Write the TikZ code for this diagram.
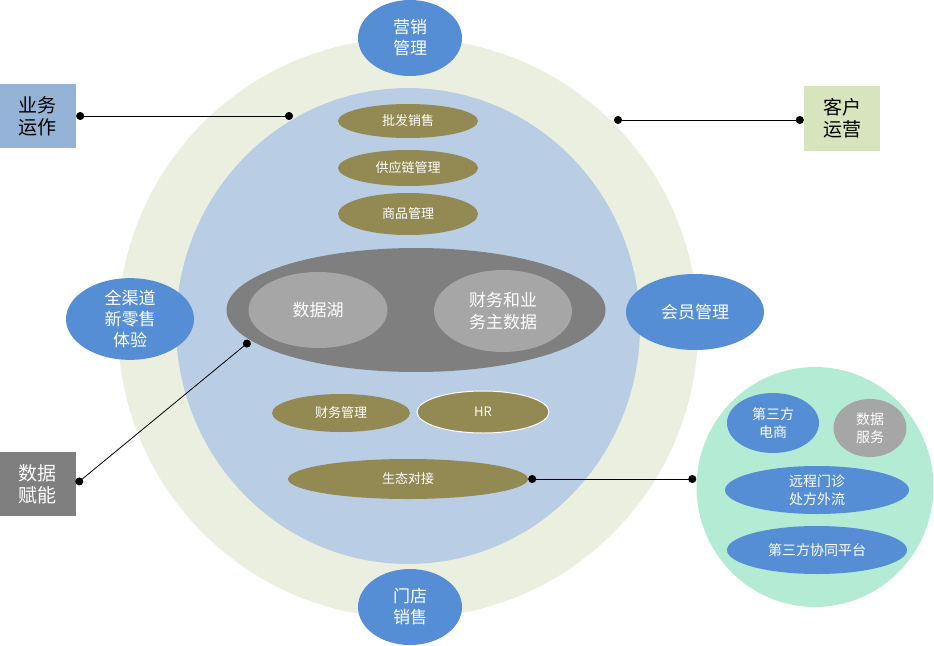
\documentclass[tikz,border=0pt]{standalone}
\usepackage{fontspec}
\newfontfamily\cjk{Noto Sans CJK SC}
\usetikzlibrary{shapes.geometric,arrows.meta}
\definecolor{ringgreen}{HTML}{EBEFDF}
\definecolor{coreblue}{HTML}{B9CDE5}
\definecolor{tagblue}{HTML}{558ED5}
\definecolor{olive}{HTML}{938953}
\definecolor{darkgray}{HTML}{7F7F7F}
\definecolor{lightgray}{HTML}{A6A6A6}
\definecolor{mint}{HTML}{B3EBD5}
\definecolor{boxblue}{HTML}{95B3D7}
\definecolor{boxgreen}{HTML}{D7E4BD}
\begin{document}
\begin{tikzpicture}[x=1pt, y=-1pt,
   oval/.style={ellipse, inner sep=0pt, font=\cjk, align=center},
   bluetag/.style={oval, fill=tagblue, text=white, font=\cjk\fontsize{17}{21}\selectfont},
   olivetag/.style={oval, fill=olive, text=white, font=\cjk\fontsize{13}{16}\selectfont},
   sidebox/.style={rectangle, inner sep=0pt, minimum width=76pt, minimum height=64pt,
                   align=center, font=\cjk\fontsize{19}{22}\selectfont},
   dotline/.style={line width=0.8pt, {Circle[length=8pt]}-{Circle[length=8pt]}}]
   \useasboundingbox (0,0) rectangle (934,645);
   % rings
   \fill[ringgreen] (408,328) circle (290);
   \fill[coreblue] (408,326) ellipse (232 and 238);
   % top, bottom, left, right tags
   \node[bluetag, minimum width=104pt, minimum height=76pt] (yxgl) at (410,38) {营销\\管理};
   \node[bluetag, minimum width=104pt, minimum height=76pt] (mdxs) at (410,607) {门店\\销售};
   \node[bluetag, minimum width=128pt, minimum height=80pt] (qqd) at (130,319) {全渠道\\新零售\\体验};
   \node[bluetag, minimum width=138pt, minimum height=76pt] (hygl) at (695,312) {会员管理};
   % inner tags
   \node[olivetag, minimum width=140pt, minimum height=34pt] (pfxs) at (408,121) {批发销售};
   \node[olivetag, minimum width=140pt, minimum height=36pt] (gyl) at (408,168) {供应链管理};
   \node[olivetag, minimum width=140pt, minimum height=42pt] (spgl) at (408,214) {商品管理};
   \node[olivetag, minimum width=138pt, minimum height=38pt] (cwgl) at (341,413) {财务管理};
   \node[olivetag, draw=white, line width=1pt, minimum width=132pt, minimum height=42pt] (hr) at (483,412) {HR};
   \node[olivetag, minimum width=240pt, minimum height=40pt] (stdj) at (408,479) {生态对接};
   % data core
   \node[oval, fill=darkgray, minimum width=379pt, minimum height=124pt] (core) at (416,310) {};
   \node[oval, fill=lightgray, text=white, minimum width=139pt, minimum height=76pt,
         font=\cjk\fontsize{17}{20}\selectfont] (sjh) at (318,310) {数据湖};
   \node[oval, fill=lightgray, text=white, minimum width=138pt, minimum height=82pt,
         font=\cjk\fontsize{17}{22}\selectfont] (zsj) at (503,311) {财务和业\\务主数据};
   % outside boxes
   \node[sidebox, fill=boxblue] (ywyz) at (38,116) {业务\\运作};
   \node[sidebox, fill=boxgreen, minimum height=65pt] (khyy) at (842,118) {客户\\运营};
   \node[sidebox, fill=darkgray, text=white] (sjfn) at (38,484) {数据\\赋能};
   % partner circle
   \node[oval, fill=mint, minimum width=237pt, minimum height=240pt] (ext) at (815,487) {};
   \node[bluetag, minimum width=92pt, minimum height=60pt, font=\cjk\fontsize{14}{18}\selectfont] (dsf) at (773,423) {第三方\\电商};
   \node[oval, fill=lightgray, text=white, minimum width=73pt, minimum height=58pt,
         font=\cjk\fontsize{14}{18}\selectfont] (sjfw) at (870,428) {数据\\服务};
   \node[bluetag, minimum width=184pt, minimum height=48pt, font=\cjk\fontsize{14}{18}\selectfont] (ycmz) at (817,490) {远程门诊\\处方外流};
   \node[bluetag, minimum width=180pt, minimum height=48pt, font=\cjk\fontsize{14}{18}\selectfont] (xtpt) at (817,550) {第三方协同平台};
   % connectors
   \coordinate (c1) at (293,116);
   \coordinate (c2) at (614,120);
   \coordinate (c3) at (250,341);
   \draw[dotline] (ywyz.east) -- (c1);
   \draw[dotline] (c2) -- (khyy.west |- c2);
   \draw[dotline] (sjfn.east) -- (c3);
   \draw[dotline] (stdj.east) -- (stdj.east -| ext.west);
\end{tikzpicture}
\end{document}
